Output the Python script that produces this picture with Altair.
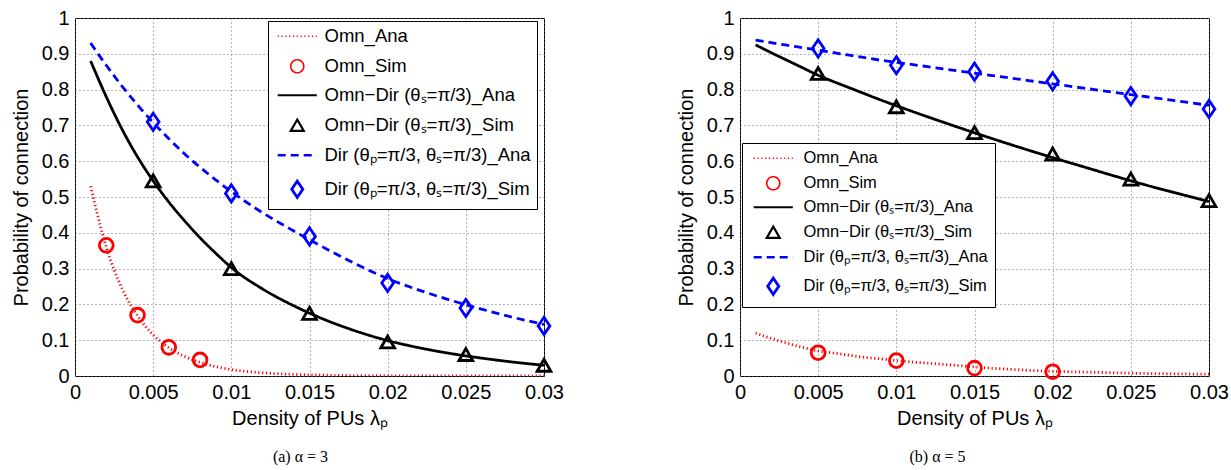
import altair as alt
import pandas as pd

# ---------------- data ----------------
SERIES = [
    "Omn_Ana",
    "Omn_Sim",
    "Omn−Dir (θₛ=π/3)_Ana",
    "Omn−Dir (θₛ=π/3)_Sim",
    "Dir (θₚ=π/3, θₛ=π/3)_Ana",
    "Dir (θₚ=π/3, θₛ=π/3)_Sim",
]
COLORS = ["#ff0000", "#ff0000", "#000000", "#000000", "#0000ff", "#0000ff"]

X_TICKS = [0, 0.005, 0.01, 0.015, 0.02, 0.025, 0.03]
Y_TICKS = [0, 0.1, 0.2, 0.3, 0.4, 0.5, 0.6, 0.7, 0.8, 0.9, 1.0]

# analytical curves (x grid shared by both panels)
x_ana = [0.001, 0.002, 0.003, 0.004, 0.005, 0.006, 0.007, 0.008, 0.009, 0.010,
         0.012, 0.014, 0.016, 0.018, 0.020, 0.022, 0.024, 0.026, 0.028, 0.030]

# panel (a) alpha = 3
a_omn_ana = [0.53, 0.36, 0.245, 0.168, 0.115, 0.079, 0.055, 0.038, 0.026, 0.018,
             0.009, 0.0045, 0.0022, 0.0011, 0.0006, 0.0003, 0.0002, 0.0001, 0.0, 0.0]
a_omndir_ana = [0.88, 0.78, 0.69, 0.612, 0.545, 0.486, 0.434, 0.386, 0.343, 0.303,
                0.243, 0.196, 0.157, 0.125, 0.099, 0.079, 0.063, 0.05, 0.039, 0.03]
a_dir_ana = [0.93, 0.868, 0.81, 0.757, 0.708, 0.663, 0.621, 0.583, 0.548, 0.515,
             0.456, 0.405, 0.357, 0.312, 0.272, 0.24, 0.212, 0.187, 0.164, 0.144]

a_omn_sim_x = [0.002, 0.004, 0.006, 0.008]
a_omn_sim = [0.365, 0.17, 0.08, 0.045]
sim_x = [0.005, 0.01, 0.015, 0.02, 0.025, 0.03]
a_omndir_sim = [0.545, 0.30, 0.175, 0.095, 0.06, 0.03]
a_dir_sim = [0.71, 0.51, 0.39, 0.26, 0.19, 0.14]

# panel (b) alpha = 5
b_omn_ana = [0.12, 0.105, 0.092, 0.08, 0.07, 0.064, 0.058, 0.052, 0.048, 0.043,
             0.036, 0.029, 0.022, 0.017, 0.013, 0.011, 0.009, 0.007, 0.006, 0.005]
b_omndir_ana = [0.925, 0.903, 0.882, 0.861, 0.84, 0.822, 0.805, 0.788, 0.771, 0.755,
                0.724, 0.694, 0.665, 0.637, 0.61, 0.584, 0.558, 0.533, 0.51, 0.487]
b_dir_ana = [0.938, 0.931, 0.924, 0.917, 0.91, 0.903, 0.896, 0.889, 0.882, 0.876,
             0.864, 0.852, 0.84, 0.828, 0.816, 0.804, 0.792, 0.78, 0.768, 0.756]

b_omn_sim_x = [0.005, 0.01, 0.015, 0.02]
b_omn_sim = [0.065, 0.043, 0.022, 0.012]
b_omndir_sim = [0.845, 0.752, 0.68, 0.62, 0.55, 0.49]
b_dir_sim = [0.915, 0.868, 0.85, 0.823, 0.782, 0.746]

# ---------------- styles ----------------
LINE_PATH = "M-3,0H3"
DIAMOND = "M0,-1.25L0.85,0L0,1.25L-0.85,0Z"
SHAPES = [LINE_PATH, "circle", LINE_PATH, "triangle-up", LINE_PATH, DIAMOND]
DASHES = [[1.2, 2.6], [1, 0], [1, 0], [1, 0], [8, 5], [1, 0]]
WIDTHS = [1.3, 2.8, 2.8, 2.8, 2.8, 2.8]
FONT = "Liberation Sans"


def build_df(curves):
    rows = []
    for name, xs, ys in curves:
        for xv, yv in zip(xs, ys):
            rows.append({"series": name, "x": xv, "y": yv})
    return pd.DataFrame(rows)


def panel(ana, sim, legend_kw, caption, cap_dx):
    df_ana = build_df(ana)
    df_sim = build_df(sim)
    xenc = alt.X("x:Q", scale=alt.Scale(domain=[0, 0.03], nice=False, zero=False),
                 axis=alt.Axis(values=X_TICKS, format="~g", title="Density of PUs λₚ",
                               labelFlush=False, labelOverlap=False))
    yenc = alt.Y("y:Q", scale=alt.Scale(domain=[0, 1], nice=False),
                 axis=alt.Axis(values=Y_TICKS, format="~g", title="Probability of connection",
                               labelOverlap=False))
    leg = alt.Legend(**legend_kw)
    color = alt.Color("series:N", scale=alt.Scale(domain=SERIES, range=COLORS), legend=leg)
    lines = alt.Chart(df_ana).mark_line(clip=True, interpolate="monotone", strokeWidth=2.8).encode(
        x=xenc, y=yenc, color=color,
        strokeDash=alt.StrokeDash("series:N", scale=alt.Scale(domain=SERIES, range=DASHES), legend=leg),
        strokeWidth=alt.StrokeWidth("series:N", scale=alt.Scale(domain=SERIES, range=WIDTHS), legend=None),
    )
    pts = alt.Chart(df_sim).mark_point(filled=False, size=190, strokeWidth=2.8, opacity=1).encode(
        x=xenc, y=yenc, color=color,
        shape=alt.Shape("series:N", scale=alt.Scale(domain=SERIES, range=SHAPES), legend=leg),
    )
    return alt.layer(lines, pts).properties(
        width=469, height=358,
        title=alt.TitleParams(caption, orient="bottom", anchor="middle", frame="group",
                              font="Liberation Serif", fontSize=16, fontWeight="normal",
                              offset=21, dx=cap_dx),
    )


common_leg = dict(
    title=None, orient="none", fillColor="white", strokeColor="black",
    labelFont=FONT, labelLimit=500, symbolSize=170, symbolStrokeWidth=2.8,
    symbolOffset=14, labelOffset=18,
)

left = panel(
    [(SERIES[0], x_ana, a_omn_ana), (SERIES[2], x_ana, a_omndir_ana), (SERIES[4], x_ana, a_dir_ana)],
    [(SERIES[1], a_omn_sim_x, a_omn_sim), (SERIES[3], sim_x, a_omndir_sim), (SERIES[5], sim_x, a_dir_sim)],
    dict(common_leg, legendX=193, legendY=3, labelFontSize=18.5, rowPadding=10, padding=6),
    "(a) α = 3", -9,
)
right = panel(
    [(SERIES[0], x_ana, b_omn_ana), (SERIES[2], x_ana, b_omndir_ana), (SERIES[4], x_ana, b_dir_ana)],
    [(SERIES[1], b_omn_sim_x, b_omn_sim), (SERIES[3], sim_x, b_omndir_sim), (SERIES[5], sim_x, b_dir_sim)],
    dict(common_leg, legendX=2, legendY=125, labelFontSize=16.5, rowPadding=6, padding=7,
         symbolOffset=16, labelOffset=22),
    "(b) α = 5", -37,
)

chart = alt.hconcat(left, right, spacing=111).resolve_scale(
    color="independent", shape="independent", strokeDash="independent", strokeWidth="independent"
).resolve_legend(
    color="independent", shape="independent", strokeDash="independent"
).properties(
    padding={"left": 10, "top": 7, "right": 0, "bottom": 0},
).configure(font=FONT).configure_view(
    stroke="black", strokeWidth=1
).configure_axis(
    labelFont=FONT, titleFont=FONT, labelFontSize=20, titleFontSize=20,
    labelColor="black", titleColor="black", titleFontWeight="normal",
    ticks=False, domain=False, grid=True, gridDash=[1, 3], gridColor="#666666",
    gridOpacity=1, labelPadding=6,
).configure_axisY(titlePadding=10).configure_axisX(titlePadding=6)

chart.save("out.html", embed_options={"renderer": "svg", "actions": False})
